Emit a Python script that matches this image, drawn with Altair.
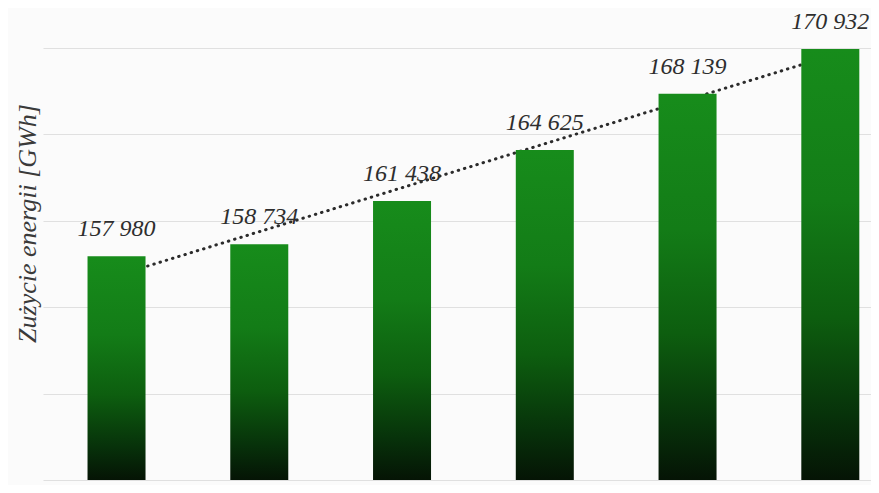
import altair as alt
import pandas as pd

# Data
categories = ["1", "2", "3", "4", "5", "6"]
index = [0, 1, 2, 3, 4, 5]
values = [157980, 158734, 161438, 164625, 168139, 170932]
grid_ticks = [144000, 149400, 154800, 160200, 165600, 171000]

df = pd.DataFrame({"cat": categories, "idx": index, "v": values})

Y0, Y1 = 144000, 171000
xscale = alt.Scale(domain=[-0.48, 5.25], nice=False, zero=False)
yscale = alt.Scale(domain=[Y0, Y1], nice=False, zero=False)

base = alt.Chart(df)

x_enc = alt.X("idx:Q", scale=xscale, axis=None)

trend = base.transform_regression("idx", "v", method="linear").mark_line(
    color="#2b2b2b", strokeWidth=3, strokeDash=[0.5, 6], strokeCap="round"
).encode(
    x=x_enc,
    y=alt.Y("v:Q", scale=yscale,
            axis=alt.Axis(values=grid_ticks, labels=False, ticks=False, domain=False,
                          grid=True, gridColor="#e0e0e0", gridWidth=1.2,
                          title="Zużycie energii [GWh]", titleFont="Liberation Serif",
                          titleFontStyle="italic", titleFontWeight="normal",
                          titleFontSize=26, titleColor="#3a3a3a", titleAngle=270,
                          titleX=-16, titleY=175, titleAlign="center",
                          titleBaseline="middle")),
)

grad = alt.Gradient(
    gradient="linear",
    stops=[
        alt.GradientStop(color="#178c1b", offset=0),
        alt.GradientStop(color="#137c17", offset=0.35),
        alt.GradientStop(color="#0d5e0f", offset=0.62),
        alt.GradientStop(color="#07320a", offset=0.85),
        alt.GradientStop(color="#051405", offset=1),
    ],
    x1=0, x2=0, y1=0, y2=1,
)

bars = base.mark_bar(size=58, color=grad).encode(
    x=x_enc,
    y=alt.Y("v:Q", scale=yscale),
    y2=alt.datum(Y0),
)

labels = base.transform_calculate(
    lab="replace(format(datum.v, ','), ',', ' ')"
).mark_text(
    font="Liberation Serif", fontStyle="italic", fontSize=24, color="#2e2e2e",
    baseline="bottom", dy=-15,
).encode(
    x=x_enc,
    y=alt.Y("v:Q", scale=yscale),
    text="lab:N",
)

chart = alt.layer(trend, bars, labels).properties(
    width=828, height=432,
    padding={"left": 35, "top": 40, "right": 0, "bottom": 5},
    autosize="none",
    background="#fbfbfb",
).configure_view(stroke=None)

chart.save("out.html", embed_options={"renderer": "svg", "actions": False})
